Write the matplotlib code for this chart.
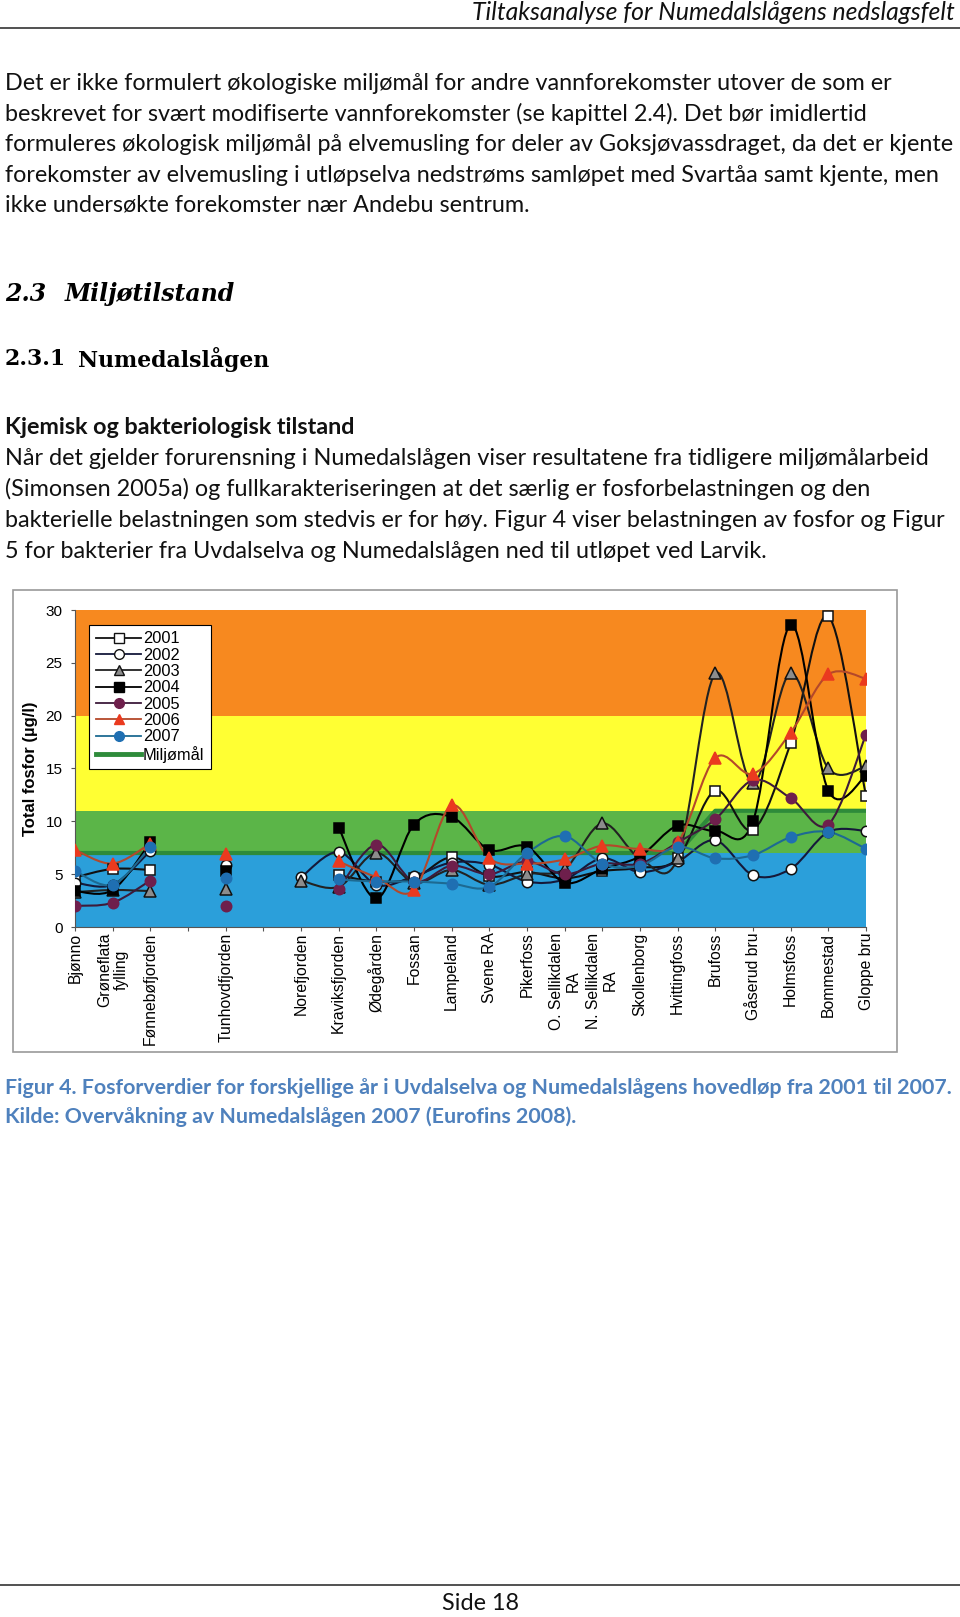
import numpy as np
import matplotlib.pyplot as plt
from matplotlib.path import Path
from matplotlib.patches import PathPatch, Rectangle
from matplotlib.lines import Line2D

W, H = 960, 1617

# Målestasjoner (tomme plasser er med som i originalen)
stations = ['Bjønno', 'Grøneflata\nfylling', 'Fønnebøfjorden', '', 'Tunhovdfjorden', '',
            'Norefjorden', 'Kraviksfjorden', 'Ødegården', 'Fossan', 'Lampeland', 'Svene RA',
            'Pikerfoss', 'O. Sellikdalen\nRA', 'N. Sellikdalen\nRA', 'Skollenborg',
            'Hvittingfoss', 'Brufoss', 'Gåserud bru', 'Holmsfoss', 'Bommestad', 'Gloppe bru']

n = None
p2001 = [4.7, 5.5, 5.4, n, n, n, n, 4.9, 4.3, 4.6, 6.6, 4.8, 5.2, 4.6, 5.3, 5.6, 6.5, 12.9, 9.2, 17.4, 29.4, 12.4]
p2002 = [4.2, 4.0, 7.2, n, 5.9, n, 4.7, 7.1, 4.0, 4.8, 6.1, 5.9, 4.3, 4.5, 6.5, 5.2, 6.2, 8.2, 4.9, 5.5, 9.0, 9.1]
p2003 = [3.3, 3.5, 3.4, n, 3.6, n, 4.4, 3.8, 7.0, 4.2, 5.4, 4.0, 5.0, 5.5, 9.8, 6.5, 6.5, 24.0, 13.6, 24.0, 15.0, 15.2]
p2004 = [3.4, 3.5, 8.0, n, 5.3, n, n, 9.4, 2.7, 9.7, 10.4, 7.3, 7.6, 4.2, 5.5, 6.7, 9.6, 9.1, 10.0, 28.6, 12.9, 14.3]
p2005 = [2.0, 2.3, 4.4, n, 2.0, n, n, 3.6, 7.8, 4.3, 5.8, 5.0, 6.2, 5.0, 6.0, 6.0, 8.0, 10.2, 13.9, 12.2, 9.7, 18.2]
p2006 = [7.3, 6.0, 7.9, n, 6.9, n, n, 6.2, 4.7, 3.5, 11.5, 6.5, 6.0, 6.4, 7.7, 7.4, 8.0, 16.0, 14.5, 18.4, 23.9, 23.5]
p2007 = [5.3, 4.0, 7.6, n, 4.6, n, n, 4.5, 4.3, 4.3, 4.1, 3.8, 7.0, 8.6, 6.0, 5.8, 7.6, 6.5, 6.8, 8.5, 9.0, 7.4]
miljomal = [7, 7, 7, 7, 7, 7, 7, 7, 7, 7, 7, 7, 7, 7, 7, 7, 7, 11, 11, 11, 11, 11]

# tilstandsklasser (fra, til, farge)
bands = [(0, 7, '#2b9fda'), (7, 11, '#5bb548'), (11, 20, '#ffff33'), (20, 30, '#f7891f')]

series = [
    ('2001', p2001, 's', 'white', '#111111', '#111111'),
    ('2002', p2002, 'o', 'white', '#111111', '#15193a'),
    ('2003', p2003, '^', '#8c8c8c', '#111111', '#222222'),
    ('2004', p2004, 's', 'black', 'black', 'black'),
    ('2005', p2005, 'o', '#6e1f4c', '#6e1f4c', '#3d1a3a'),
    ('2006', p2006, '^', '#ea3a1f', '#ea3a1f', '#b4482a'),
    ('2007', p2007, 'o', '#1f6fb2', '#1f6fb2', '#1d6a92'),
]


def smooth_path(xs, ys):
    # glatte kurver som i Excel (Catmull-Rom som Bezier)
    verts, codes = [], []
    idx = np.where(~np.isnan(ys))[0]
    runs = np.split(idx, np.where(np.diff(idx) > 1)[0] + 1)
    for run in runs:
        if len(run) < 2:
            continue
        pts = np.column_stack([xs[run], ys[run]])
        verts.append(pts[0]); codes.append(Path.MOVETO)
        for i in range(len(pts) - 1):
            p0 = pts[i - 1] if i > 0 else pts[i]
            p1, p2 = pts[i], pts[i + 1]
            p3 = pts[i + 2] if i + 2 < len(pts) else pts[i + 1]
            verts += [p1 + (p2 - p0) / 6, p2 - (p3 - p1) / 6, p2]
            codes += [Path.CURVE4] * 3
    return Path(verts, codes)


fig = plt.figure(figsize=(W / 100, H / 100), dpi=100)
fig.patch.set_facecolor('white')


def txt(x, y, s, **kw):
    return fig.text(x / W, 1 - y / H, s, **kw)


body = dict(family='Lato', fontsize=16.8, color='#111111', va='center')

# topptekst
txt(955, 12, 'Tiltaksanalyse for Numedalslågens nedslagsfelt', family='Lato', style='italic',
    fontsize=17.8, ha='right', va='center', color='#111111')
fig.add_artist(Line2D([0, 1], [1 - 28 / H, 1 - 28 / H], color='#333333', lw=1.2))

para1 = ['Det er ikke formulert økologiske miljømål for andre vannforekomster utover de som er',
         'beskrevet for svært modifiserte vannforekomster (se kapittel 2.4). Det bør imidlertid',
         'formuleres økologisk miljømål på elvemusling for deler av Goksjøvassdraget, da det er kjente',
         'forekomster av elvemusling i utløpselva nedstrøms samløpet med Svartåa samt kjente, men',
         'ikke undersøkte forekomster nær Andebu sentrum.']
for i, line in enumerate(para1):
    txt(5, 83.5 + i * 30.5, line, **body)

txt(5, 294, '2.3', family='DejaVu Serif', weight='bold', style='italic', fontsize=17, va='center')
txt(65, 294, 'Miljøtilstand', family='DejaVu Serif', weight='bold', style='italic', fontsize=17, va='center')
txt(5, 359, '2.3.1', family='DejaVu Serif', weight='bold', fontsize=15.8, va='center')
txt(78, 359, 'Numedalslågen', family='DejaVu Serif', weight='bold', fontsize=15.8, va='center')

txt(5, 427, 'Kjemisk og bakteriologisk tilstand', family='Lato', weight='bold', fontsize=16.8,
    va='center', color='#111111')
para2 = ['Når det gjelder forurensning i Numedalslågen viser resultatene fra tidligere miljømålarbeid',
         '(Simonsen 2005a) og fullkarakteriseringen at det særlig er fosforbelastningen og den',
         'bakterielle belastningen som stedvis er for høy. Figur 4 viser belastningen av fosfor og Figur',
         '5 for bakterier fra Uvdalselva og Numedalslågen ned til utløpet ved Larvik.']
for i, line in enumerate(para2):
    txt(5, 458 + i * 31, line, **body)

# figurramme
fig.add_artist(Rectangle((13 / W, 1 - 1052 / H), (897 - 13) / W, (1052 - 590) / H,
                         transform=fig.transFigure, fill=False, edgecolor='#9a9a9a', lw=1.2))

ax = fig.add_axes([75 / W, 1 - 927 / H, 791 / W, 317 / H])
x = np.arange(len(stations))
for lo, hi, c in bands:
    ax.axhspan(lo, hi, color=c, lw=0, zorder=0)

ax.plot(x, miljomal, color='#2e8b3a', lw=3, zorder=1, solid_capstyle='butt')

handles = []
for name, vals, mk, fc, ec, lc in series:
    ys = np.array(vals, dtype=float)
    ax.add_patch(PathPatch(smooth_path(x.astype(float), ys), fill=False, edgecolor=lc,
                           lw=1.5, zorder=2))
    ax.plot(x, ys, ls='none', marker=mk, markersize=8.5 if mk == '^' else 7.5,
            markerfacecolor=fc, markeredgecolor=ec, markeredgewidth=1.1, zorder=3)
    handles.append(Line2D([], [], color=lc, lw=1.3, marker=mk, markersize=7,
                          markerfacecolor=fc, markeredgecolor=ec, label=name))
handles.append(Line2D([], [], color='#2e8b3a', lw=3.5, label='Miljømål'))

ax.set_xlim(0, len(stations) - 1)
ax.set_ylim(0, 30)
ax.set_yticks([0, 5, 10, 15, 20, 25, 30])
ax.set_xticks(x)
ax.set_xticklabels(stations, rotation=90, ha='center', va='top', linespacing=1.15,
                   multialignment='center', family='Liberation Sans', fontsize=11.3)
for lab in ax.get_yticklabels():
    lab.set_family('Liberation Sans')
    lab.set_fontsize(11)
ax.tick_params(axis='both', length=3, width=0.8, color='#555555', pad=1)
ax.tick_params(axis='y', pad=6)
for s in ['top', 'right']:
    ax.spines[s].set_visible(False)
for s in ['left', 'bottom']:
    ax.spines[s].set_color('#555555')
    ax.spines[s].set_linewidth(0.8)
ax.set_ylabel('Total fosfor (µg/l)', family='Liberation Sans', weight='bold', fontsize=12)
ax.yaxis.set_label_coords(-0.047, 0.5)

leg = ax.legend(handles=handles, loc='upper left', bbox_to_anchor=(0.0177, 0.953),
                borderaxespad=0, frameon=True, fancybox=False, framealpha=1,
                edgecolor='black', prop={'family': 'Liberation Sans', 'size': 11.8},
                handlelength=2.8, labelspacing=0.08, borderpad=0.4, handletextpad=0.1)
leg.get_frame().set_linewidth(0.8)

# figurtekst
cap = dict(family='Lato', weight='bold', fontsize=15.4, color='#4f81bd', va='center')
txt(5, 1088, 'Figur 4. Fosforverdier for forskjellige år i Uvdalselva og Numedalslågens hovedløp fra 2001 til 2007.', **cap)
txt(5, 1117, 'Kilde: Overvåkning av Numedalslågen 2007 (Eurofins 2008).', **cap)

# bunntekst
fig.add_artist(Line2D([0, 1], [1 - 1585 / H, 1 - 1585 / H], color='#333333', lw=1.2))
txt(480, 1603, 'Side 18', family='Lato', fontsize=16.8, ha='center', va='center', color='#111111')

fig.savefig('out.png', dpi=100)
